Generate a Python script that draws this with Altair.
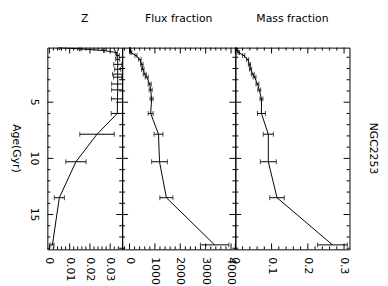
import altair as alt
import pandas as pd

FONT = "DejaVu Sans"

# ---- data ----
AGE = [0.14, 0.25, 0.4, 0.58, 0.84, 1.19, 1.63, 2.07, 2.5, 2.77, 3.38, 3.9, 4.7, 6.0, 7.85, 10.3, 13.5, 17.7]
Z = [0.005, 0.015, 0.027, 0.033, 0.0337, 0.0337, 0.0337, 0.0337, 0.0337, 0.0337, 0.0337, 0.0337, 0.0336, 0.0335, 0.0235, 0.0131, 0.0049, 0.0015]
Z_ERR = [0.0002, 0.0002, 0.0003, 0.0005, 0.0008, 0.001, 0.002, 0.0015, 0.0025, 0.002, 0.003, 0.003, 0.003, 0.003, 0.0085, 0.005, 0.0025, 0.0008]
FLUX = [8, 20, 40, 58, 252, 407, 485, 523, 601, 678, 795, 833, 872, 833, 1143, 1182, 1453, 3353]
FLUX_ERR = [5, 8, 10, 30, 40, 50, 50, 50, 60, 60, 60, 60, 60, 97, 175, 310, 258, 560]
MASS = [0.001, 0.003, 0.006, 0.0095, 0.023, 0.034, 0.039, 0.042, 0.048, 0.053, 0.061, 0.066, 0.072, 0.072, 0.091, 0.091, 0.115, 0.268]
MASS_ERR = [0.0005, 0.001, 0.001, 0.002, 0.003, 0.003, 0.003, 0.003, 0.004, 0.004, 0.004, 0.004, 0.004, 0.011, 0.014, 0.022, 0.02, 0.041]

AGE_DOMAIN = [0.14, 18.1]
AGE_MAJOR = [5, 10, 15]
AGE_MINOR = [1, 2, 3, 4, 6, 7, 8, 9, 11, 12, 13, 14, 16, 17, 18]
AGE_TITLE = "Age(Gyr)"

Z_DOMAIN = [-0.001, 0.0359]
Z_MAJOR = [0, 0.01, 0.02, 0.03]
Z_MINOR = [0.002, 0.004, 0.006, 0.008, 0.012, 0.014, 0.016, 0.018, 0.022, 0.024, 0.026, 0.028, 0.032, 0.034]

FLUX_DOMAIN = [-290, 4170]
FLUX_MAJOR = [0, 1000, 2000, 3000, 4000]
FLUX_MINOR = [-200, 200, 400, 600, 800, 1200, 1400, 1600, 1800, 2200, 2400, 2600, 2800, 3200, 3400, 3600, 3800]

MASS_DOMAIN = [0, 0.315]
MASS_MAJOR = [0, 0.1, 0.2, 0.3]
MASS_MINOR = [0.02, 0.04, 0.06, 0.08, 0.12, 0.14, 0.16, 0.18, 0.22, 0.24, 0.26, 0.28]

TITLES = ["Z", "Flux fraction", "Mass fraction"]
FORMATS = [".2~f", "d", ".1~f"]
GALAXY = "NGC2253"

H = 205
MAJ = 6
MIN = 3
FS = 11


def panel(vals, errs, xmajor, xminor, xdomain, width, title, fmt, first, last):
    df = pd.DataFrame({"age": AGE, "v": vals,
                       "lo": [a - b for a, b in zip(vals, errs)],
                       "hi": [a + b for a, b in zip(vals, errs)]})
    xs = alt.Scale(domain=xdomain, nice=False, zero=False)
    ys = alt.Scale(domain=AGE_DOMAIN, reverse=True, nice=False, zero=False)
    base = alt.Chart(df)
    line = base.mark_line(color="black", strokeWidth=1, clip=True).encode(
        x=alt.X("v:Q", scale=xs, axis=None),
        y=alt.Y("age:Q", scale=ys, axis=None),
        order="age:Q")
    bars = base.mark_rule(color="black", strokeWidth=1, clip=True).encode(
        x=alt.X("lo:Q", axis=None), x2="hi:Q", y=alt.Y("age:Q", axis=None))
    cap_lo = base.mark_tick(orient="vertical", size=5, thickness=1, color="black", clip=True).encode(
        x=alt.X("lo:Q", axis=None), y=alt.Y("age:Q", axis=None))
    cap_hi = base.mark_tick(orient="vertical", size=5, thickness=1, color="black", clip=True).encode(
        x=alt.X("hi:Q", axis=None), y=alt.Y("age:Q", axis=None))

    layers = [line, bars, cap_lo, cap_hi]
    rule = dict(color="black", strokeWidth=1)
    for ticks, ln in ((AGE_MAJOR, MAJ), (AGE_MINOR, MIN)):
        tdf = alt.Chart(pd.DataFrame({"age": ticks}))
        yy = alt.Y("age:Q", axis=None)
        layers.append(tdf.mark_rule(**rule).encode(y=yy, x=alt.value(0), x2=alt.value(ln)))
        layers.append(tdf.mark_rule(**rule).encode(y=yy, x=alt.value(width), x2=alt.value(width - ln)))
    for ticks, ln in ((xmajor, MAJ), (xminor, MIN)):
        tdf = alt.Chart(pd.DataFrame({"v": ticks}))
        xx = alt.X("v:Q", axis=None)
        layers.append(tdf.mark_rule(**rule).encode(x=xx, y=alt.value(H), y2=alt.value(H - ln)))
        layers.append(tdf.mark_rule(**rule).encode(x=xx, y=alt.value(0), y2=alt.value(ln)))

    # bottom tick labels (rotated)
    ldf = alt.Chart(pd.DataFrame({"v": xmajor}))
    layers.append(ldf.mark_text(angle=90, align="left", baseline="middle", font=FONT, fontSize=FS,
                                color="black").encode(
        x=alt.X("v:Q", axis=None), y=alt.value(H + 8), text=alt.Text("v:Q", format=fmt)))

    if first:
        adf = alt.Chart(pd.DataFrame({"age": AGE_MAJOR}))
        layers.append(adf.mark_text(angle=90, align="center", baseline="middle", font=FONT, fontSize=FS,
                                    color="black").encode(
            y=alt.Y("age:Q", axis=None), x=alt.value(-14), text=alt.Text("age:Q", format="d")))
        tdf = alt.Chart(pd.DataFrame({"name": [AGE_TITLE]}))
        layers.append(tdf.mark_text(angle=90, align="center", baseline="middle", font=FONT,
                                    fontSize=FS, color="black").encode(
            x=alt.value(-32), y=alt.value(H / 2), text="name:N"))
    if last:
        tdf = alt.Chart(pd.DataFrame({"name": [GALAXY]}))
        layers.append(tdf.mark_text(angle=90, align="center", baseline="middle", font=FONT,
                                    fontSize=FS, color="black").encode(
            x=alt.value(width + 24), y=alt.value(H / 2), text="name:N"))

    return alt.layer(*layers).properties(
        width=width, height=H,
        title=alt.TitleParams(title, font=FONT, fontSize=FS, fontWeight="normal", color="black",
                              offset=24, frame="group", anchor="middle"))


p1 = panel(Z, Z_ERR, Z_MAJOR, Z_MINOR, Z_DOMAIN, 76, TITLES[0], FORMATS[0], True, False)
p2 = panel(FLUX, FLUX_ERR, FLUX_MAJOR, FLUX_MINOR, FLUX_DOMAIN, 115, TITLES[1], FORMATS[1], False, False)
p3 = panel(MASS, MASS_ERR, MASS_MAJOR, MASS_MINOR, MASS_DOMAIN, 116, TITLES[2], FORMATS[2], False, True)

chart = alt.hconcat(p1, p2, p3, spacing=0, bounds="flush").properties(
    padding={"left": 2, "top": 2, "right": 0, "bottom": 0},
    background="white"
).configure_view(stroke="black", strokeWidth=1)

chart.save("out.html", embed_options={"renderer": "svg", "actions": False})
